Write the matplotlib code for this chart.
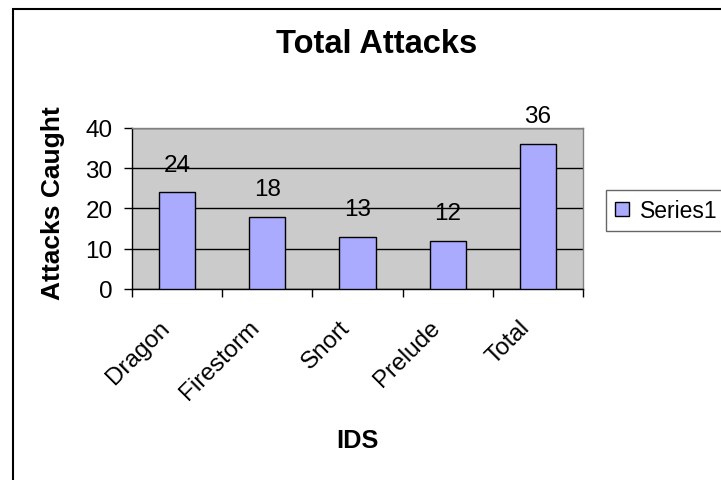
import matplotlib
matplotlib.use("Agg")
import matplotlib.pyplot as plt
from matplotlib.patches import Rectangle
import numpy as np

categories = ["Dragon", "Firestorm", "Snort", "Prelude", "Total"]
values = [24, 18, 13, 12, 36]
yticks = [0, 10, 20, 30, 40]
series_name = "Series1"

plt.rcParams['font.family'] = ['Liberation Sans', 'DejaVu Sans']

W, H = 721, 481
fig = plt.figure(figsize=(W / 100, H / 100), dpi=100)
fig.patch.set_facecolor("white")

# outer chart frame (cropped at right/bottom)
fig.patches.append(Rectangle((13 / W, -0.1), 1.2, 1 - 10 / H + 0.1,
                             transform=fig.transFigure, fill=False,
                             edgecolor="black", linewidth=1.5))

left, right, top, bottom = 132, 583, 129, 290
ax = fig.add_axes([left / W, 1 - bottom / H, (right - left) / W, (bottom - top) / H])
ax.set_facecolor("#CBCBCB")

x = np.arange(len(categories))
bars = ax.bar(x, values, width=0.4, color="#AAAAFF", edgecolor="black",
              linewidth=1.0, zorder=3, label=series_name)
ax.set_xlim(-0.5, len(categories) - 0.5)
ax.set_ylim(0, 40)
ax.set_yticks(yticks)
ax.set_yticklabels([str(t) for t in yticks], fontsize=17.5)
ax.yaxis.grid(True, color="black", linewidth=1.0, zorder=1)
ax.set_axisbelow(True)

ax.set_xticks(np.arange(len(categories) + 1) - 0.5)
ax.set_xticklabels([])
ax.tick_params(axis="x", direction="out", length=6, width=1, color="black")
ax.tick_params(axis="y", direction="out", length=6, width=1, color="black", pad=8)

for s in ["top", "right"]:
    ax.spines[s].set_color("#808080")
    ax.spines[s].set_linewidth(1.0)
for s in ["left", "bottom"]:
    ax.spines[s].set_color("black")
    ax.spines[s].set_linewidth(1.0)

for xi, v in zip(x, values):
    ax.annotate(str(v), xy=(xi, v), xytext=(0, 20), textcoords="offset points",
                ha="center", va="center", fontsize=17.5, zorder=5,
                annotation_clip=False)

for xi, c in zip(x, categories):
    ax.annotate(c, xy=(xi, 0), xycoords=("data", "axes fraction"),
                xytext=(-8, -25), textcoords="offset points",
                rotation=45, rotation_mode="anchor", ha="right", va="center",
                fontsize=17.5, annotation_clip=False)

fig.text(377 / W, 1 - 45 / H, "Total Attacks", fontsize=23.5, fontweight="bold",
         ha="center", va="center")
fig.text(357 / W, 1 - 441 / H, "IDS", fontsize=18.3, fontweight="bold",
         ha="center", va="center")
fig.text(53 / W, 1 - 203 / H, "Attacks Caught", fontsize=19, fontweight="bold",
         ha="center", va="center", rotation=90)

leg = fig.legend(handles=[bars], labels=[series_name], loc="upper left",
                 bbox_to_anchor=(606 / W, 1 - 191 / H), borderaxespad=0,
                 fancybox=False, frameon=True, fontsize=16.5,
                 handlelength=0.6, handleheight=0.6, handletextpad=0.5,
                 borderpad=0.4)
leg.get_frame().set_edgecolor("#404040")
leg.get_frame().set_linewidth(1.0)

fig.savefig("out.png", dpi=100)
